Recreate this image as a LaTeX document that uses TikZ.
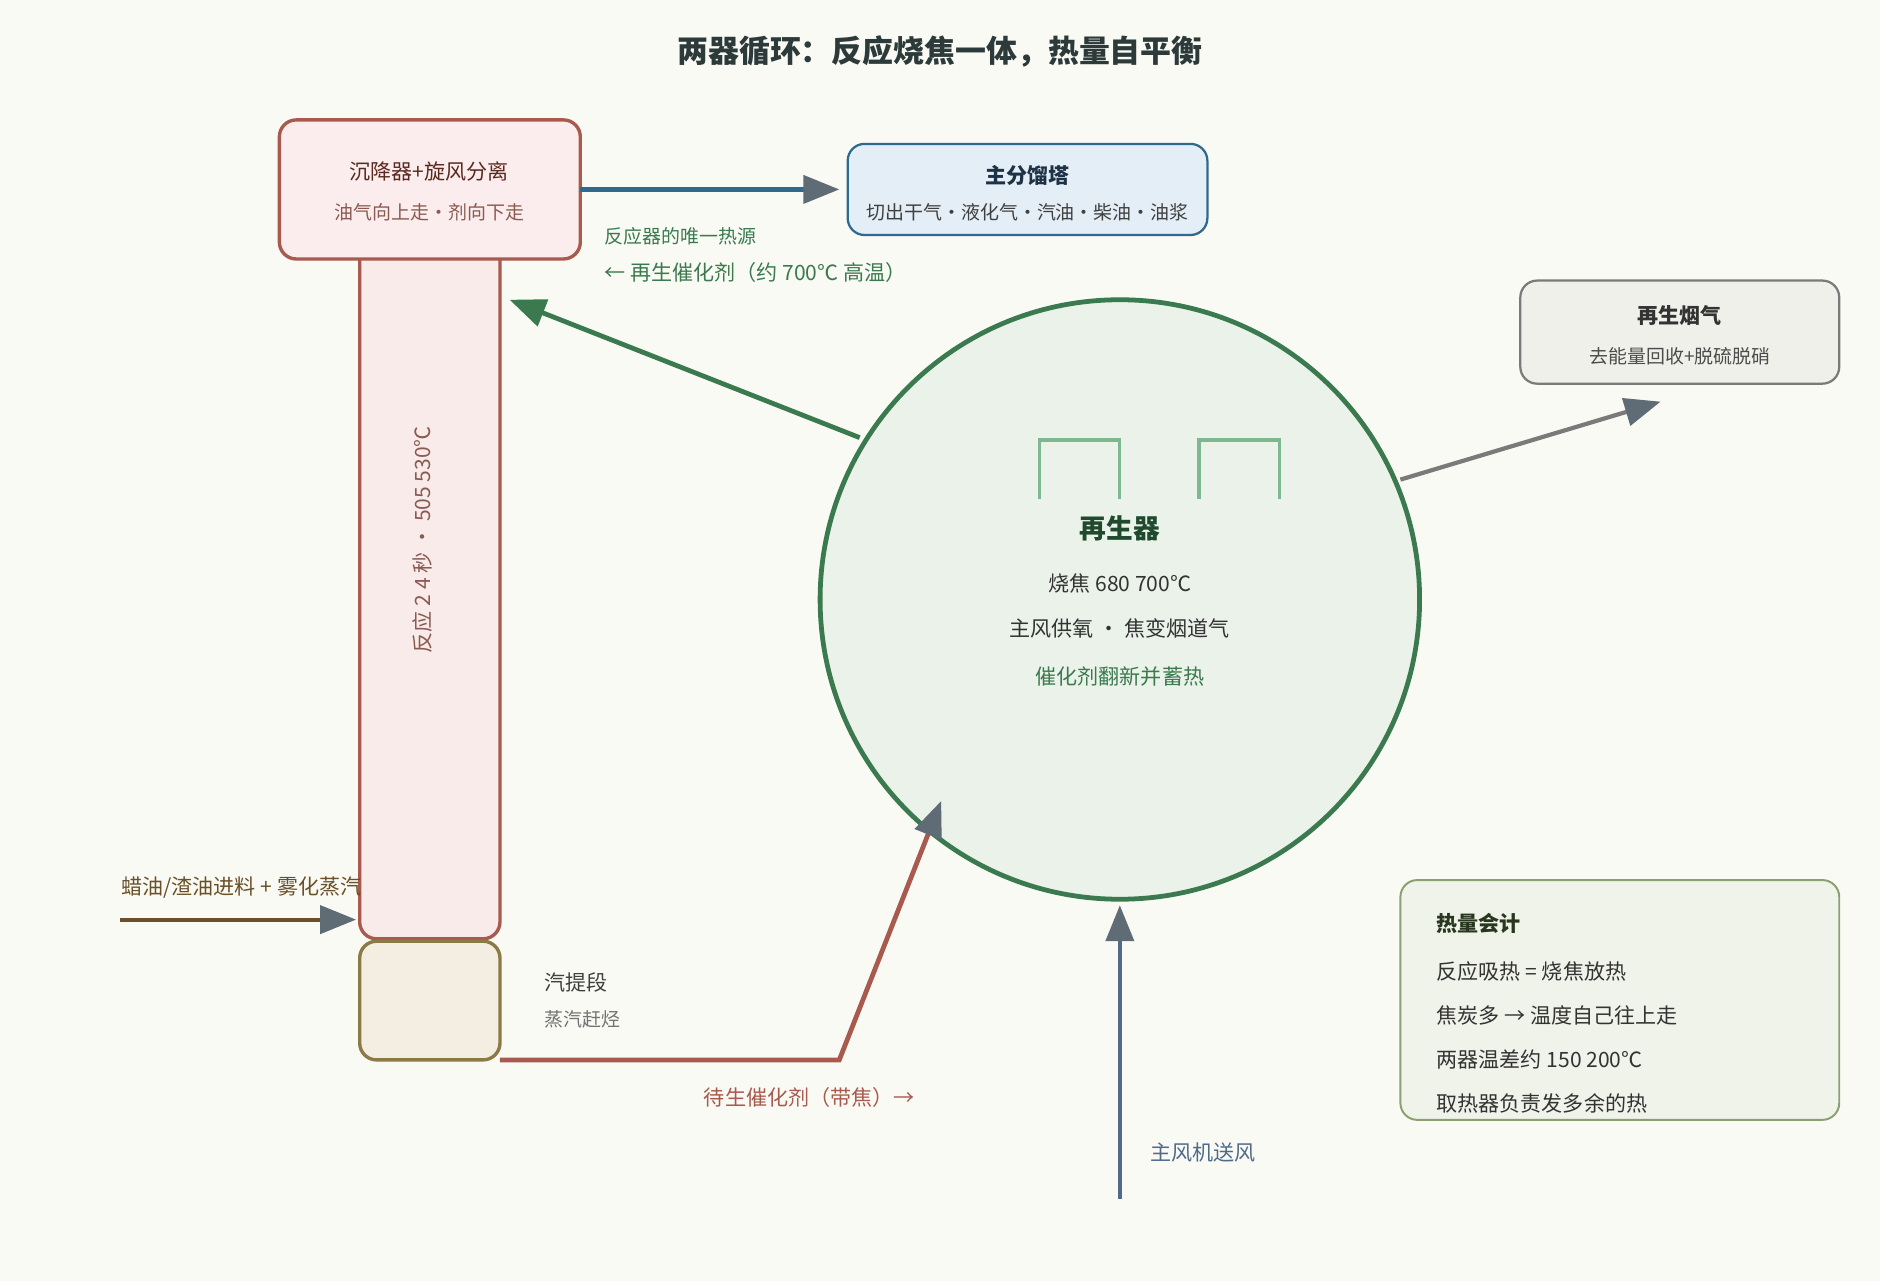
\documentclass[tikz,border=0pt]{standalone}
\usepackage{fontspec}
\setmainfont{Noto Sans CJK SC}
\usetikzlibrary{arrows.meta}
\definecolor{bgc}{HTML}{FAFAF5}
\definecolor{rust}{HTML}{A85A4E}
\definecolor{leaf}{HTML}{3A7A4E}
\definecolor{sea}{HTML}{2E6A8E}
\definecolor{tipgray}{HTML}{5F6B75}
\definecolor{olive}{HTML}{8B7A45}
\definecolor{feedc}{HTML}{6A5028}
\definecolor{airc}{HTML}{4F6A8A}
\newcommand{\fs}[1]{\fontsize{#1}{#1}\selectfont}
\tikzset{
  box/.style={rounded corners=12pt,line width=2.4pt},
  big/.style={font=\fs{15}},
  small/.style={font=\fs{13.5}},
  tip/.style={-{Triangle[length=9mm,width=7mm,color=#1]}},
}
\begin{document}
\begin{tikzpicture}[x=0.03cm,y=-0.03cm]
\fill[bgc] (0,0) rectangle (1568,1068);
\useasboundingbox (0,0) rectangle (1568,1068);
\node (title) at (784,43) {\fs{22}\bfseries\color[HTML]{2D3A3A}两器循环：反应烧焦一体，热量自平衡};
% reactor side
\draw[box,rust,fill={rgb,255:red,248;green,235;blue,234}] (300,200) rectangle (417,783);
\draw[box,rust,fill={rgb,255:red,251;green,237;blue,237}] (233,100) rectangle (484,216);
\node[big,text={rgb,255:red,90;green,42;blue,32}] (settler) at (358,143) {沉降器+旋风分离};
\node[small,text={rgb,255:red,138;green,90;blue,80}] (settler2) at (358,177) {油气向上走·剂向下走};
\node[big,rotate=90,text={rgb,255:red,138;green,90;blue,80}] (riser) at (352,450) {反应 2~4 秒 · 505~530℃};
\draw[box,olive,fill={rgb,255:red,243;green,237;blue,226}] (300,785) rectangle (417,884);
\node[big,anchor=west,text=black!75] (strip) at (450,819) {汽提段};
\node[small,anchor=west,text=black!55] (strip2) at (450,850) {蒸汽赶烃};
% fractionator
\draw[box,sea,line width=1.6pt,fill={rgb,255:red,228;green,238;blue,246}] (707,120) rectangle (1007,196);
\node[big,font=\fs{15}\bfseries,text={rgb,255:red,30;green,50;blue,70}] (frac) at (857,146) {主分馏塔};
\node[small,text=black!75] (frac2) at (857,177) {切出干气·液化气·汽油·柴油·油浆};
\coordinate (setout) at (484,158);
\coordinate (fracin) at (700,158);
\draw[sea,line width=3pt,tip=tipgray] (setout) -- (fracin);
% regenerator
\node[circle,draw=leaf,line width=3.4pt,fill={rgb,255:red,234;green,242;blue,234},minimum size=500*0.03cm,inner sep=0pt] (regen) at (934,500) {};
\draw[line width=2.2pt,color={rgb,255:red,125;green,184;blue,144}] (867,416) -- (867,367) -- (934,367) -- (934,416);
\draw[line width=2.2pt,color={rgb,255:red,125;green,184;blue,144}] (1000,416) -- (1000,367) -- (1067,367) -- (1067,416);
\node[font=\fs{19}\bfseries,text={rgb,255:red,31;green,74;blue,46}] (rname) at (934,441) {再生器};
\node[big,text=black!80] (r1) at (934,487) {烧焦 680~700℃};
\node[big,text=black!80] (r2) at (934,524) {主风供氧 · 焦变烟道气};
\node[big,text=leaf] (r3) at (934,564) {催化剂翻新并蓄热};
\coordinate (rout) at (717,365);
\coordinate (rin) at (425,250);
\draw[leaf,line width=3.4pt,tip=leaf] (rout) -- (rin);
\node[small,anchor=west,text=leaf] (hot1) at (500,197) {反应器的唯一热源};
\node[big,anchor=west,text=leaf] (hot2) at (500,227) {← 再生催化剂（约 700℃ 高温）};
% flue gas
\draw[box,line width=1.6pt,draw=black!52,fill={rgb,255:red,240;green,240;blue,235}] (1268,234) rectangle (1534,320);
\node[font=\fs{15}\bfseries,text=black!80] (flue) at (1401,263) {再生烟气};
\node[small,text=black!70] (flue2) at (1401,297) {去能量回收+脱硫脱硝};
\coordinate (fout) at (1168,400);
\coordinate (fin) at (1385,335);
\draw[black!52,line width=3pt,tip=tipgray] (fout) -- (fin);
% feed
\node[big,anchor=west,text=feedc] (feed) at (97,740) {蜡油/渣油进料 + 雾化蒸汽};
\coordinate (fd0) at (100,767);
\coordinate (fd1) at (297,767);
\draw[feedc,line width=3pt,tip=tipgray] (fd0) -- (fd1);
% spent catalyst
\coordinate (sp0) at (417,884);
\coordinate (sp1) at (700,884);
\coordinate (sp2) at (785,668);
\draw[rust,line width=3.4pt,tip=tipgray] (sp0) -- (sp1) -- (sp2);
\node[big,text=rust] (spent) at (675,915) {待生催化剂（带焦）→};
% air
\coordinate (a0) at (934,1000);
\coordinate (a1) at (934,755);
\draw[airc,line width=3pt,tip=tipgray] (a0) -- (a1);
\node[big,anchor=west,text=airc] (air) at (955,961) {主风机送风};
% heat balance
\draw[box,line width=1.4pt,draw={rgb,255:red,138;green,160;blue,112},fill={rgb,255:red,240;green,243;blue,234}] (1168,734) rectangle (1534,934);
\node[font=\fs{15}\bfseries,anchor=west,text={rgb,255:red,40;green,55;blue,30}] (hb) at (1194,770) {热量会计};
\node[big,anchor=west,text=black!80] (hb1) at (1194,810) {反应吸热 = 烧焦放热};
\node[big,anchor=west,text=black!80] (hb2) at (1194,847) {焦炭多 → 温度自己往上走};
\node[big,anchor=west,text=black!80] (hb3) at (1194,884) {两器温差约 150~200℃};
\node[big,anchor=west,text=black!80] (hb4) at (1194,920) {取热器负责发多余的热};
\end{tikzpicture}
\end{document}
